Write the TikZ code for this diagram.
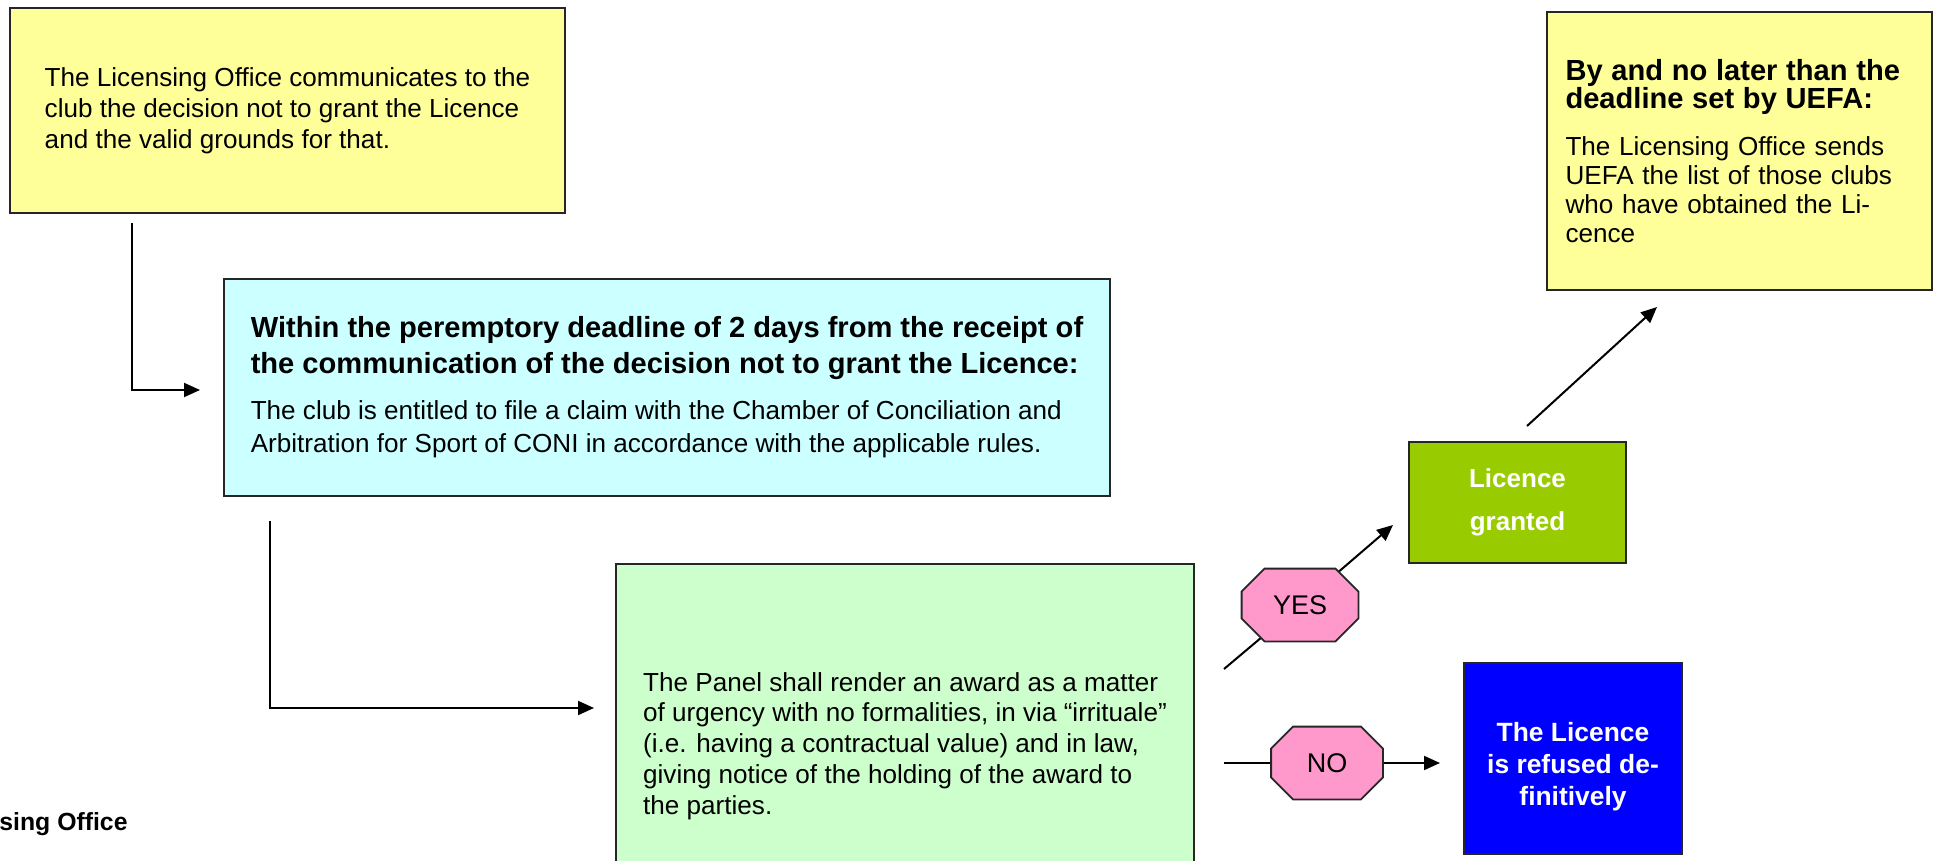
\documentclass[tikz,border=0pt]{standalone}
\usepackage{fontspec}
\setmainfont{Liberation Sans}
\usepackage{tikz}
\usetikzlibrary{arrows.meta,calc,backgrounds}

\definecolor{noteyellow}{RGB}{255,255,153}
\definecolor{claimcyan}{RGB}{204,255,255}
\definecolor{awardgreen}{RGB}{204,255,204}
\definecolor{grantgreen}{RGB}{153,204,0}
\definecolor{refuseblue}{RGB}{0,0,255}
\definecolor{answerpink}{RGB}{255,153,204}

\newcommand{\bodyfont}{\fontsize{13.05pt}{15.4pt}\selectfont}
\newcommand{\headfont}{\fontsize{14.55pt}{14pt}\selectfont\bfseries}

\tikzset{
  box/.style={draw=black!85, line width=1pt, inner sep=0pt, align=left, font=\bodyfont},
  result/.style={draw=black!85, line width=1pt, inner sep=0pt, align=center, text=white},
  answer/.style={inner sep=0pt, minimum height=36pt, font=\fontsize{13.5pt}{16pt}\selectfont},
  octagon/.style={draw=black!85, line width=0.9pt, fill=answerpink},
  flow/.style={line width=1pt, -{Triangle[length=8pt,width=7pt]}},
  plain/.style={line width=1pt}
}

\begin{document}
\begin{tikzpicture}[x=0.5pt,y=0.5pt,yscale=-1]
\useasboundingbox (0,0) rectangle (1939,861);

%Shape: Rectangle
\node [box, fill=noteyellow, minimum width=277.5pt, minimum height=102.5pt] (notice) at (287.5,110.5)
  {The Licensing Office communicates to the\\ club the decision not to grant the Licence\\ and the valid grounds for that.};
%Shape: Rectangle
\node [box, fill=claimcyan, minimum width=443pt, minimum height=108pt, font=\fontsize{13.05pt}{16pt}\selectfont] (claim) at (667,387.5)
  {\headfont Within the peremptory deadline of 2 days from the receipt of\\[1.8pt]
   \headfont the communication of the decision not to grant the Licence:\\[7pt]
   The club is entitled to file a claim with the Chamber of Conciliation and\\[0.6pt]
   Arbitration for Sport of CONI in accordance with the applicable rules.};
%Shape: Rectangle
\node [box, fill=awardgreen, minimum width=289pt, minimum height=182pt] (award) at (905,746)
  {The Panel shall render an award as a matter\\ of urgency with no formalities, in via “irrituale”\\ (i.e. having a contractual value) and in law,\\ giving notice of the holding of the award to\\ the parties.};
%Shape: Rectangle
\node [result, fill=grantgreen, minimum width=108.5pt, minimum height=60.5pt,
  font=\fontsize{13pt}{21.5pt}\selectfont\bfseries] (granted) at (1517.5,502.5) {Licence\\ granted};
%Shape: Rectangle
\node [result, fill=refuseblue, minimum width=109pt, minimum height=95.5pt,
  font=\fontsize{13.2pt}{16pt}\selectfont\bfseries] (refused) at (1573,758.5) {\rule{0pt}{17.5pt}The Licence\\ is refused de-\\ finitively};
%Shape: Rectangle
\node [box, fill=noteyellow, text width=173.5pt, inner xsep=9.5pt, minimum height=139pt] (uefa) at (1739,151)
  {{\headfont By and no later than the\\ deadline set by UEFA:\par}
   \vspace{9pt}
   {\fontsize{13.05pt}{14.5pt}\selectfont The Licensing Office sends\\ UEFA the list of those clubs\\ who have obtained the Li-\\ cence\par}\vspace{7pt}};

% Octagon labels
\node [answer, minimum width=58pt] (yes) at (1300,605) {YES};
\node [answer, minimum width=55.5pt] (no) at (1327,763) {NO};

%Free ends
\coordinate (notice-out) at (132,223);
\coordinate (claim-in) at (200,390);
\coordinate (claim-out) at (270,521);
\coordinate (award-in) at (594,708);
\coordinate (yes-from) at (1224,669);
\coordinate (yes-to) at (1393,525);
\coordinate (no-from) at (1224,763);
\coordinate (no-to) at (1440,763);
\coordinate (granted-out) at (1527,426);
\coordinate (uefa-in) at (1657,307);

%Straight Lines
\draw [flow] (notice-out) |- (claim-in);
\draw [flow] (claim-out) |- (award-in);
\draw [flow] (granted-out) -- (uefa-in);

\begin{scope}[on background layer]
\draw [plain] (yes-from) -- (yes.center);
\draw [flow] (yes.center) -- (yes-to);
\draw [plain] (no-from) -- (no.center);
\draw [flow] (no.center) -- (no-to);
%Shape: Octagon
\foreach \n/\c in {yes/23,no/22}
  \draw [octagon] ($(\n.north west)+(\c,0)$) -- ($(\n.north east)+(-\c,0)$) -- ($(\n.north east)+(0,\c)$)
    -- ($(\n.south east)+(0,-\c)$) -- ($(\n.south east)+(-\c,0)$) -- ($(\n.south west)+(\c,0)$)
    -- ($(\n.south west)+(0,-\c)$) -- ($(\n.north west)+(0,\c)$) -- cycle;
\end{scope}

% Text Node
\node [anchor=base west, inner sep=0pt, font=\fontsize{12.4pt}{14pt}\selectfont\bfseries] (office) at (-1,830) {sing Office};

\end{tikzpicture}
\end{document}
